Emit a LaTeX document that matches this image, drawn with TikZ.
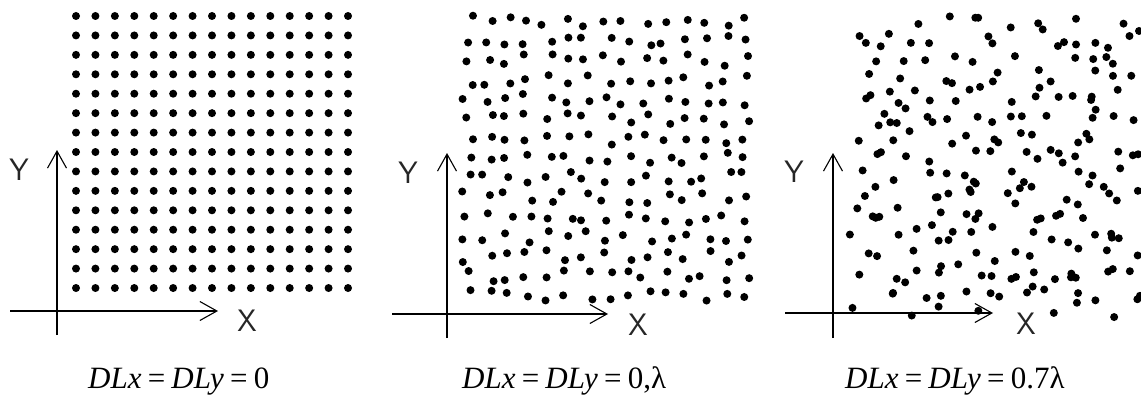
\documentclass[tikz,border=0pt]{standalone}
\usepackage{fontspec}
\setmainfont{Liberation Serif}
\usetikzlibrary{arrows.meta}
\newcommand\eqsp{\hspace{0.2em}=\hspace{0.2em}}
\tikzset{
  axisline/.style={line width=1.4pt,-{Straight Barb[length=17pt,width=19pt,line width=1.1pt]}},
  axislabel/.style={font=\sffamily\fontsize{31}{31}\selectfont,inner sep=0pt,text=black!85},
  caption/.style={font=\fontsize{31}{31}\selectfont,anchor=base west,inner sep=0pt},
}
\begin{document}
\begin{tikzpicture}[x=1pt,y=-1pt]
\useasboundingbox (0,0) rectangle (1141,396);
\clip (0,0) rectangle (1141,396);
% ---------- panel 1: regular grid
\foreach \i in {0,...,14}{
  \foreach \j in {0,...,14}{
    \fill ({76+19.43*\i},{16+19.43*\j}) circle (4);
  }
}
% ---------- panel 2: small jitter
\pgfmathsetseed{4711}
\foreach \i in {0,...,14}{
  \foreach \j in {0,...,14}{
    \pgfmathsetmacro\px{468+19.8*\i+6*rand}
    \pgfmathsetmacro\py{21+19.6*\j+6*rand}
    \fill (\px,\py) circle (4);
  }
}
% ---------- panel 3: large jitter
\pgfmathsetseed{2024}
\foreach \i in {0,...,14}{
  \foreach \j in {0,...,14}{
    \pgfmathsetmacro\px{864+20*\i+15*rand}
    \pgfmathsetmacro\py{30+19.6*\j+15*rand}
    \fill (\px,\py) circle (4);
  }
}
% ---------- axes panel 1
\coordinate (v1b) at (57,335);
\coordinate (v1t) at (57,150);
\coordinate (h1l) at (10,311);
\coordinate (h1r) at (218,311);
\draw[axisline] (v1b) -- (v1t);
\draw[axisline] (h1l) -- (h1r);
\node[axislabel] (Y1) at (19,170) {Y};
\node[axislabel] (X1) at (247,321) {X};
% ---------- axes panel 2
\coordinate (v2b) at (447,338);
\coordinate (v2t) at (447,153);
\coordinate (h2l) at (392,314);
\coordinate (h2r) at (608,314);
\draw[axisline] (v2b) -- (v2t);
\draw[axisline] (h2l) -- (h2r);
\node[axislabel] (Y2) at (408,173) {Y};
\node[axislabel] (X2) at (638,325) {X};
% ---------- axes panel 3
\coordinate (v3b) at (833,338);
\coordinate (v3t) at (833,153);
\coordinate (h3l) at (785,313);
\coordinate (h3r) at (993,313);
\draw[axisline] (v3b) -- (v3t);
\draw[axisline] (h3l) -- (h3r);
\node[axislabel] (Y3) at (794,172) {Y};
\node[axislabel] (X3) at (1026,324) {X};
% ---------- captions
\node[caption] (c1) at (88,388) {\textit{DLx}\eqsp\textit{DLy}\eqsp0};
\node[caption] (c2) at (462,388) {\textit{DLx}\eqsp\textit{DLy}\eqsp0,λ};
\node[caption] (c3) at (845,388) {\textit{DLx}\eqsp\textit{DLy}\eqsp0.7λ};
\end{tikzpicture}
\end{document}
